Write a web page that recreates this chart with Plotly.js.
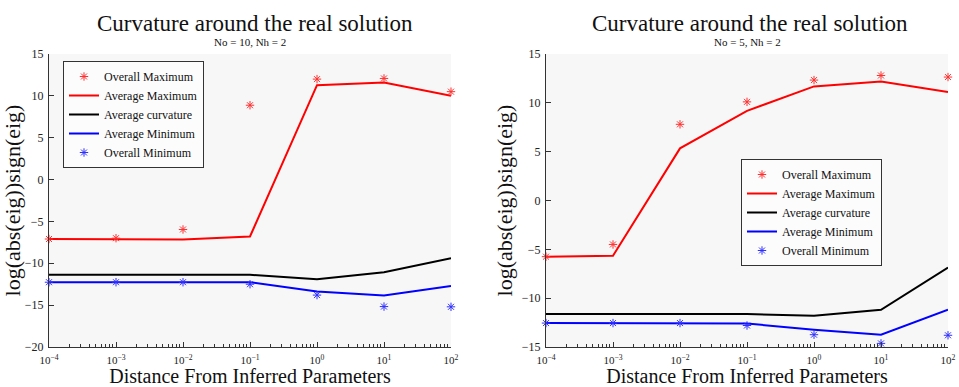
<!DOCTYPE html>
<html>
<head>
<meta charset="utf-8">
<script src="https://cdn.plot.ly/plotly-3.0.1.min.js"></script>
<style>html,body{margin:0;padding:0;background:#fff;}#chart{width:959px;height:387px;}</style>
</head>
<body>
<div id="chart"></div>
<script>
// Shared x values (distance from inferred parameters)
const distances = [1e-4, 1e-3, 1e-2, 1e-1, 1e0, 1e1, 1e2];
const xTickVals = [1e-4, 1e-3, 1e-2, 1e-1, 1e0, 1e1, 1e2];
const xTickText = ["10<sup>−4</sup>", "10<sup>−3</sup>", "10<sup>−2</sup>", "10<sup>−1</sup>", "10<sup>0</sup>", "10<sup>1</sup>", "10<sup>2</sup>"];

// Left panel: No = 10, Nh = 2
const leftOverallMax = [-7.1, -7.0, -5.96, 8.88, 12.0, 12.08, 10.5];
const leftAvgMax     = [-7.1, -7.1, -7.15, -6.8, 11.28, 11.6, 10.0];
const leftAvgCurv    = [-11.38, -11.38, -11.38, -11.38, -11.9, -11.06, -9.39];
const leftAvgMin     = [-12.26, -12.26, -12.26, -12.26, -13.38, -13.86, -12.7];
const leftOverallMin = [-12.26, -12.26, -12.26, -12.5, -13.8, -15.17, -15.2];

// Right panel: No = 5, Nh = 2
const rightOverallMax = [-5.75, -4.5, 7.8, 10.1, 12.33, 12.8, 12.64];
const rightAvgMax     = [-5.75, -5.65, 5.34, 9.18, 11.68, 12.19, 11.1];
const rightAvgCurv    = [-11.63, -11.63, -11.63, -11.63, -11.8, -11.19, -6.87];
const rightAvgMin     = [-12.55, -12.55, -12.55, -12.6, -13.23, -13.74, -11.19];
const rightOverallMin = [-12.55, -12.55, -12.55, -12.8, -13.74, -14.63, -13.8];

const seriesNames = ["Overall Maximum", "Average Maximum", "Average curvature", "Average Minimum", "Overall Minimum"];
const panelTitle = "Curvature around the real solution";
const subtitles = ["No = 10, Nh = 2", "No = 5, Nh = 2"];
const xTitle = "Distance From Inferred Parameters";
const yTitle = "log(abs(eig))sign(eig)";

const FONT = "Liberation Serif, Times New Roman, serif";

function panel(sets, xa, ya, legend) {
  const [omax, amax, acurv, amin, omin] = sets;
  const line = (y, color, name, rank) => ({
    x: distances, y: y, xaxis: xa, yaxis: ya, legend: legend, name: name,
    type: 'scatter', mode: 'lines', line: {color: color, width: 2}, legendrank: rank
  });
  const star = (y, color, name, rank) => ({
    x: distances, y: y, xaxis: xa, yaxis: ya, legend: legend, name: name,
    type: 'scatter', mode: 'markers', legendrank: rank, cliponaxis: false,
    marker: {symbol: 'asterisk-open', size: 7, color: color, line: {color: color, width: 1}}
  });
  return [
    line(amax, '#ff0000', seriesNames[1], 2),
    line(acurv, '#000000', seriesNames[2], 3),
    line(amin, '#0000ff', seriesNames[3], 4),
    star(omax, '#ff3030', seriesNames[0], 1),
    star(omin, '#3030ff', seriesNames[4], 5)
  ];
}

const data = [].concat(
  panel([leftOverallMax, leftAvgMax, leftAvgCurv, leftAvgMin, leftOverallMin], 'x', 'y', 'legend'),
  panel([rightOverallMax, rightAvgMax, rightAvgCurv, rightAvgMin, rightOverallMin], 'x2', 'y2', 'legend2')
);

const yTop = 1 - 54/387, yBot = 1 - 347/387;

function xaxis(domain, anchor) {
  return {
    type: 'log', domain: domain, anchor: anchor, range: [-4, 2],
    tickmode: 'array', tickvals: xTickVals, ticktext: xTickText,
    showgrid: false, zeroline: false,
    showline: true, linecolor: '#333', linewidth: 1,
    ticks: 'inside', ticklen: 5, tickcolor: '#333', ticklabelstandoff: 3,
    minor: {ticks: 'inside', ticklen: 3, tickcolor: '#333', tickwidth: 1, showgrid: false, dtick: 'D1'},
    tickfont: {family: FONT, size: 11, color: '#222'},
    title: {text: xTitle, font: {family: FONT, size: 20, color: '#111'}, standoff: 10},
    fixedrange: true
  };
}
function yaxis(range, anchor) {
  return {
    domain: [yBot, yTop], anchor: anchor, range: range, dtick: 5,
    showgrid: false, zeroline: false, showline: true, linecolor: '#333', linewidth: 1,
    ticks: 'inside', ticklen: 5, tickcolor: '#333', ticklabelstandoff: 2,
    tickfont: {family: FONT, size: 12, color: '#222'},
    title: {text: yTitle, font: {family: FONT, size: 22, color: '#111'}, standoff: 3},
    fixedrange: true
  };
}

const legendStyle = (x, y) => ({
  x: x, y: y, xanchor: 'left', yanchor: 'top', xref: 'paper', yref: 'paper',
  bgcolor: '#fcfcfc', bordercolor: '#333', borderwidth: 1,
  font: {family: FONT, size: 12, color: '#111'}, tracegroupgap: 0,
  traceorder: 'normal'
});

const layout = {
  width: 959, height: 387,
  margin: {l: 0, r: 0, t: 0, b: 0},
  paper_bgcolor: '#ffffff', plot_bgcolor: '#f7f7f7',
  showlegend: true,
  xaxis: xaxis([49/959, 451/959], 'y'),
  yaxis: yaxis([-20, 15], 'x'),
  xaxis2: xaxis([546/959, 948/959], 'y2'),
  yaxis2: yaxis([-15, 15], 'x2'),
  legend: legendStyle(63/959, 1 - 61/387),
  legend2: legendStyle(741/959, 1 - 159/387),
  annotations: [
    {text: panelTitle, xref: 'paper', yref: 'paper', x: 255/959, y: 1 - 23/387, xanchor: 'center', yanchor: 'middle', showarrow: false, font: {family: FONT, size: 23, color: '#111'}},
    {text: subtitles[0], xref: 'paper', yref: 'paper', x: 250/959, y: 1 - 42/387, xanchor: 'center', yanchor: 'middle', showarrow: false, font: {family: FONT, size: 11, color: '#111'}},
    {text: panelTitle, xref: 'paper', yref: 'paper', x: 750/959, y: 1 - 23/387, xanchor: 'center', yanchor: 'middle', showarrow: false, font: {family: FONT, size: 23, color: '#111'}},
    {text: subtitles[1], xref: 'paper', yref: 'paper', x: 747/959, y: 1 - 42/387, xanchor: 'center', yanchor: 'middle', showarrow: false, font: {family: FONT, size: 11, color: '#111'}}
  ]
};

Plotly.newPlot('chart', data, layout, {staticPlot: true, displayModeBar: false});
</script>
</body>
</html>
